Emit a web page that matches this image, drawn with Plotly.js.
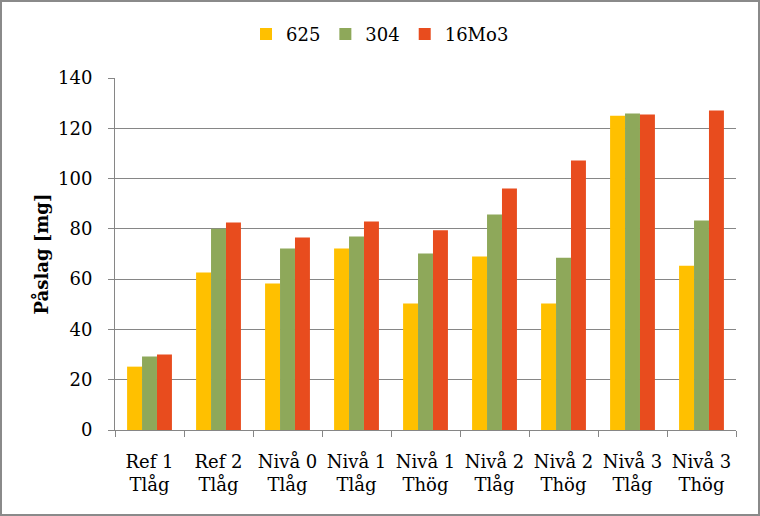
<!DOCTYPE html>
<html>
<head>
<meta charset="utf-8">
<script src="https://cdn.plot.ly/plotly-3.0.1.min.js"></script>
<style>
html,body{margin:0;padding:0;background:#fff;}
#chart{width:760px;height:516px;box-sizing:border-box;border:2px solid #8a8a8a;}
</style>
</head>
<body>
<div id="chart"></div>
<script>
const categories = ["Ref 1<br>Tlåg","Ref 2<br>Tlåg","Nivå 0<br>Tlåg","Nivå 1<br>Tlåg","Nivå 1<br>Thög","Nivå 2<br>Tlåg","Nivå 2<br>Thög","Nivå 3<br>Tlåg","Nivå 3<br>Thög"];
const s625 = [25.2, 62.6, 58.3, 72.2, 50.3, 69.0, 50.3, 125.0, 65.3];
const s304 = [29.2, 80.0, 72.2, 77.0, 70.2, 85.7, 68.5, 125.9, 83.3];
const s16Mo3 = [30.0, 82.5, 76.6, 82.9, 79.4, 96.1, 107.2, 125.5, 127.1];
const yTicks = [0,20,40,60,80,100,120,140];

const fam = "DejaVu Serif";
const font = {family: fam, size: 18, color: "#000"};
const traces = [
  {type:"bar", name:"625", x:categories, y:s625, marker:{color:"#FFC000"}},
  {type:"bar", name:"304", x:categories, y:s304, marker:{color:"#8EA85A"}},
  {type:"bar", name:"16Mo3", x:categories, y:s16Mo3, marker:{color:"#E84C1E"}}
];
const layout = {
  width:756, height:512,
  margin:{l:113, r:22, t:76, b:84},
  paper_bgcolor:"#fff", plot_bgcolor:"#fff",
  font: font,
  barmode:"group", bargap:0.35, bargroupgap:0,
  showlegend:true,
  legend:{orientation:"h", xref:"container", yref:"container", x:0.5, xanchor:"center", y:0.937, yanchor:"middle", font:font, traceorder:"normal", itemwidth:30},
  xaxis:{type:"category", automargin:false, showline:true, linecolor:"#868686", linewidth:1, ticks:"outside", tickson:"boundaries", ticklen:6, tickcolor:"#868686", tickfont:font, ticklabelstandoff:15, showgrid:false, fixedrange:true},
  yaxis:{range:[0,140], automargin:false, tickvals:yTicks, ticktext:yTicks.map(String), showline:true, linecolor:"#868686", linewidth:1, ticks:"outside", ticklen:6, tickcolor:"#868686", showgrid:true, gridcolor:"#868686", gridwidth:1, zeroline:false, tickfont:font, ticklabelstandoff:12,
    title:{text:"<b>Påslag [mg]</b>", font:{family:fam, size:18, color:"#000"}, standoff:4}}
};
Plotly.newPlot("chart", traces, layout, {displayModeBar:false, staticPlot:true});
</script>
</body>
</html>
